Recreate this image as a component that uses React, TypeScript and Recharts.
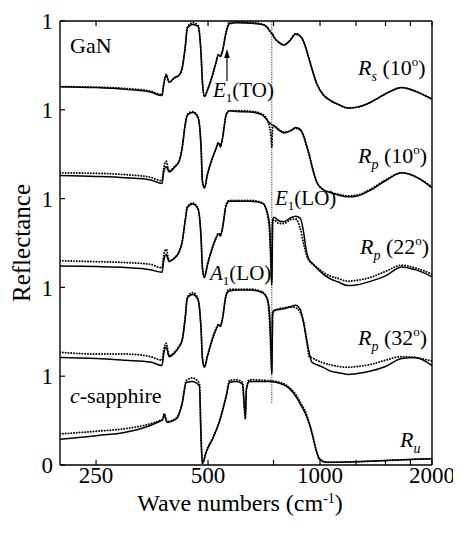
import React from 'react';
import { ComposedChart, Line, XAxis, YAxis, ReferenceLine, Customized } from 'recharts';

const FONT = '"Liberation Serif", "Times New Roman", serif';

// axis ticks
const xTicks = [250, 500, 750, 1000, 1250, 1500, 1750, 2000];
const xLabelTicks = [250, 500, 1000, 2000];
const yTicks = [0, 1, 2, 3, 4, 5];
const yTickLabels = ['0', '1', '1', '1', '1', '1'];

// wave numbers (cm-1) for the GaN curves
const waveGaN = [200, 250, 300, 350, 376, 380, 386, 393, 406, 418, 426, 434, 440, 455, 470, 479, 483, 489, 498, 514, 526, 533, 540, 546, 560, 571, 600, 650, 700, 722, 732, 738, 742, 746, 752, 775, 800, 830, 860, 885, 905, 920, 935, 950, 979, 1020, 1062, 1120, 1187, 1260, 1360, 1500, 1659, 1800, 2000];

// Rs (10 deg)
const rs10Calc = [0.26, 0.25, 0.23, 0.20, 0.16, 0.28, 0.39, 0.31, 0.36, 0.39, 0.47, 0.70, 0.92, 0.96, 0.94, 0.62, 0.31, 0.15, 0.22, 0.39, 0.54, 0.62, 0.60, 0.65, 0.88, 0.97, 0.98, 0.975, 0.96, 0.93, 0.89, 0.87, 0.86, 0.85, 0.82, 0.76, 0.73, 0.78, 0.85, 0.83, 0.76, 0.67, 0.57, 0.47, 0.30, 0.17, 0.11, 0.06, 0.02, 0.03, 0.08, 0.18, 0.25, 0.21, 0.12];
const rs10Exp = [0.26, 0.255, 0.24, 0.21, 0.17, 0.29, 0.40, 0.31, 0.36, 0.39, 0.47, 0.70, 0.93, 0.98, 0.95, 0.62, 0.31, 0.15, 0.22, 0.39, 0.54, 0.62, 0.61, 0.66, 0.89, 0.99, 0.99, 0.985, 0.965, 0.92, 0.89, 0.87, 0.86, 0.85, 0.82, 0.76, 0.73, 0.78, 0.86, 0.83, 0.76, 0.67, 0.57, 0.47, 0.30, 0.17, 0.11, 0.06, 0.02, 0.03, 0.08, 0.18, 0.25, 0.21, 0.12];

// Rp (10 deg)
const rp10Calc = [0.26, 0.25, 0.235, 0.21, 0.17, 0.30, 0.36, 0.30, 0.35, 0.42, 0.57, 0.83, 0.94, 0.97, 0.91, 0.57, 0.19, 0.12, 0.27, 0.46, 0.57, 0.63, 0.58, 0.66, 0.95, 0.99, 0.98, 0.975, 0.94, 0.88, 0.85, 0.84, 0.83, 0.83, 0.82, 0.77, 0.74, 0.76, 0.80, 0.78, 0.70, 0.60, 0.50, 0.38, 0.19, 0.10, 0.07, 0.04, 0.02, 0.03, 0.09, 0.20, 0.29, 0.25, 0.12];
const rp10Exp = [0.29, 0.285, 0.27, 0.24, 0.20, 0.34, 0.42, 0.31, 0.36, 0.42, 0.57, 0.83, 0.95, 0.98, 0.92, 0.57, 0.20, 0.12, 0.27, 0.46, 0.57, 0.63, 0.60, 0.67, 0.95, 0.99, 0.99, 0.985, 0.95, 0.88, 0.80, 0.70, 0.58, 0.80, 0.82, 0.78, 0.75, 0.76, 0.79, 0.77, 0.69, 0.59, 0.49, 0.37, 0.19, 0.10, 0.07, 0.05, 0.03, 0.04, 0.10, 0.21, 0.29, 0.25, 0.13];

// Rp (22 deg)
const rp22Calc = [0.24, 0.235, 0.225, 0.20, 0.17, 0.30, 0.37, 0.29, 0.33, 0.40, 0.51, 0.75, 0.90, 0.94, 0.88, 0.55, 0.22, 0.11, 0.25, 0.45, 0.56, 0.60, 0.58, 0.65, 0.93, 0.97, 0.97, 0.97, 0.95, 0.84, 0.70, 0.30, 0.02, 0.76, 0.79, 0.75, 0.74, 0.78, 0.80, 0.78, 0.60, 0.40, 0.31, 0.28, 0.22, 0.15, 0.10, 0.06, 0.02, 0.03, 0.065, 0.13, 0.23, 0.20, 0.12];
const rp22Exp = [0.30, 0.29, 0.28, 0.26, 0.22, 0.36, 0.43, 0.30, 0.33, 0.40, 0.51, 0.75, 0.91, 0.95, 0.89, 0.55, 0.22, 0.12, 0.26, 0.45, 0.56, 0.61, 0.59, 0.66, 0.94, 0.98, 0.98, 0.98, 0.95, 0.82, 0.60, 0.25, 0.05, 0.74, 0.76, 0.72, 0.72, 0.76, 0.77, 0.66, 0.48, 0.36, 0.30, 0.27, 0.23, 0.17, 0.13, 0.10, 0.07, 0.08, 0.11, 0.18, 0.25, 0.22, 0.15];

// Rp (32 deg)
const rp32Calc = [0.21, 0.20, 0.18, 0.16, 0.12, 0.25, 0.33, 0.22, 0.26, 0.33, 0.40, 0.65, 0.88, 0.92, 0.86, 0.52, 0.20, 0.10, 0.22, 0.42, 0.53, 0.58, 0.56, 0.63, 0.92, 0.96, 0.97, 0.97, 0.94, 0.87, 0.70, 0.30, 0.02, 0.72, 0.74, 0.75, 0.76, 0.78, 0.80, 0.75, 0.58, 0.41, 0.27, 0.16, 0.13, 0.10, 0.06, 0.04, 0.02, 0.03, 0.055, 0.11, 0.20, 0.21, 0.12];
const rp32Exp = [0.27, 0.25, 0.25, 0.22, 0.18, 0.30, 0.37, 0.23, 0.27, 0.34, 0.41, 0.66, 0.89, 0.94, 0.87, 0.52, 0.20, 0.11, 0.23, 0.43, 0.54, 0.58, 0.57, 0.64, 0.93, 0.98, 0.98, 0.98, 0.95, 0.86, 0.60, 0.25, 0.05, 0.70, 0.73, 0.76, 0.77, 0.78, 0.77, 0.72, 0.60, 0.42, 0.22, 0.21, 0.18, 0.15, 0.13, 0.11, 0.10, 0.11, 0.13, 0.18, 0.22, 0.21, 0.17];

// c-sapphire (Ru)
const waveSap = [200, 250, 300, 347, 370, 378, 381, 388, 411, 426, 437, 453, 474, 479, 483, 495, 514, 536, 560, 571, 596, 619, 626, 630, 634, 646, 731, 793, 828, 865, 881, 920, 938, 955, 979, 997, 1042, 1200, 1400, 1600, 1800, 2000];
const sapCalc = [0.29, 0.33, 0.37, 0.44, 0.49, 0.51, 0.57, 0.48, 0.52, 0.69, 0.93, 0.94, 0.89, 0.29, 0.02, 0.15, 0.29, 0.48, 0.78, 0.93, 0.94, 0.91, 0.66, 0.54, 0.85, 0.94, 0.94, 0.91, 0.86, 0.76, 0.70, 0.55, 0.45, 0.33, 0.15, 0.07, 0.03, 0.035, 0.045, 0.055, 0.065, 0.07];
const sapExp = [0.35, 0.38, 0.41, 0.46, 0.50, 0.52, 0.58, 0.49, 0.53, 0.70, 0.95, 0.98, 0.92, 0.30, 0.02, 0.16, 0.30, 0.49, 0.79, 0.95, 0.96, 0.93, 0.64, 0.52, 0.86, 0.96, 0.95, 0.92, 0.87, 0.78, 0.72, 0.57, 0.46, 0.34, 0.15, 0.06, 0.03, 0.035, 0.045, 0.055, 0.065, 0.07];

// vertical offset of each stacked spectrum
const offsets = { rs10: 4, rp10: 3, rp22: 2, rp32: 1, sap: 0 };

const toRows = (waves: number[], vals: number[], off: number) =>
  waves.map((w, i) => ({ w, v: vals[i] + off }));

const series = [
  { key: 'rs10', waves: waveGaN, calc: rs10Calc, exp: rs10Exp, off: offsets.rs10 },
  { key: 'rp10', waves: waveGaN, calc: rp10Calc, exp: rp10Exp, off: offsets.rp10 },
  { key: 'rp22', waves: waveGaN, calc: rp22Calc, exp: rp22Exp, off: offsets.rp22 },
  { key: 'rp32', waves: waveGaN, calc: rp32Calc, exp: rp32Exp, off: offsets.rp32 },
  { key: 'sap', waves: waveSap, calc: sapCalc, exp: sapExp, off: offsets.sap },
];

const RLabel = ({ x, y, sub, angle }: { x: number; y: number; sub: string; angle?: string }) => (
  <text x={x} y={y} fontSize={22} fontFamily={FONT} fill="#000">
    <tspan fontStyle="italic">R</tspan>
    <tspan fontStyle="italic" fontSize={14} dy={6}>{sub}</tspan>
    {angle ? (
      <>
        <tspan dy={-6}>{' (' + angle}</tspan>
        <tspan fontSize={13} dy={-9}>o</tspan>
        <tspan dy={9}>)</tspan>
      </>
    ) : null}
  </text>
);

const Phonon = ({ x, y, letter, mode }: { x: number; y: number; letter: string; mode: string }) => (
  <text x={x} y={y} fontSize={21} fontFamily={FONT} fill="#000">
    <tspan fontStyle="italic">{letter}</tspan>
    <tspan fontSize={13} dy={5}>1</tspan>
    <tspan dy={-5}>{'(' + mode + ')'}</tspan>
  </text>
);

const Annotations = () => (
  <g>
    <text x={62} y={45} fontSize={22} fontFamily={FONT} fill="#000">GaN</text>
    <text x={62} y={395} fontSize={22} fontFamily={FONT} fill="#000">
      <tspan fontStyle="italic">c</tspan>-sapphire
    </text>
    <Phonon x={205} y={89} letter="E" mode="TO" />
    <Phonon x={267} y={197} letter="E" mode="LO" />
    <Phonon x={202} y={272} letter="A" mode="LO" />
    <line x1={219} y1={73} x2={219} y2={48} stroke="#000" strokeWidth={1.2} />
    <polygon points="219,41 216.2,50 221.8,50" fill="#000" />
    <RLabel x={350} y={67} sub="s" angle="10" />
    <RLabel x={350} y={155} sub="p" angle="10" />
    <RLabel x={352} y={246} sub="p" angle="22" />
    <RLabel x={350} y={337} sub="p" angle="32" />
    <RLabel x={392} y={439} sub="u" />
    <text transform="rotate(-90)" x={-235} y={22} textAnchor="middle" fontSize={25} fontFamily={FONT} fill="#000">Reflectance</text>
    <text x={232} y={503} textAnchor="middle" fontSize={24} fontFamily={FONT} fill="#000">
      Wave numbers (cm<tspan fontSize={14} dy={-8}>-1</tspan><tspan dy={8}>)</tspan>
    </text>
  </g>
);

const axisLine = { stroke: '#000', strokeWidth: 1.4 };
const tickLine = { stroke: '#000', strokeWidth: 1.2 };
const tickFont = { fill: '#000', fontSize: 23, fontFamily: FONT };

export default function App() {
  return (
    <div style={{ width: 453, height: 526 }}>
      <ComposedChart width={453} height={526} margin={{ top: 0, right: 0, bottom: 0, left: 0 }}>
        <XAxis
          xAxisId="b" dataKey="w" type="number" scale="log" domain={[200, 2000]} allowDataOverflow
          ticks={xTicks} interval={0} height={69}
          tickFormatter={(v: number) => (xLabelTicks.includes(v) ? String(v) : '')}
          tickSize={-5} tickMargin={7} axisLine={axisLine} tickLine={tickLine} tick={tickFont}
        />
        <XAxis
          xAxisId="t" orientation="top" dataKey="w" type="number" scale="log" domain={[200, 2000]} allowDataOverflow
          ticks={xTicks} interval={0} height={13}
          tickFormatter={() => ''}
          tickSize={-5} axisLine={axisLine} tickLine={tickLine} tick={tickFont}
        />
        <YAxis
          yAxisId="l" type="number" domain={[0, 5]} ticks={yTicks} interval={0} width={52}
          tickFormatter={(v: number) => yTickLabels[yTicks.indexOf(v)] ?? ''}
          tickSize={-5} tickMargin={12} axisLine={axisLine} tickLine={tickLine} tick={tickFont}
        />
        <YAxis
          yAxisId="r" orientation="right" type="number" domain={[0, 5]} ticks={yTicks} interval={0} width={29}
          tickFormatter={() => ''}
          tickSize={-5} axisLine={axisLine} tickLine={tickLine} tick={tickFont}
        />
        <ReferenceLine
          xAxisId="b" yAxisId="l"
          segment={[{ x: 742, y: 0.7 }, { x: 742, y: 5 }]}
          stroke="#000" strokeWidth={1} strokeDasharray="1 1.5"
        />
        {series.map((s) => (
          <Line
            key={s.key + '-calc'} xAxisId="b" yAxisId="l"
            data={toRows(s.waves, s.calc, s.off)} dataKey="v" type="monotone"
            stroke="#000" strokeWidth={1.5} dot={false} activeDot={false} isAnimationActive={false}
          />
        ))}
        {series.map((s) => (
          <Line
            key={s.key + '-exp'} xAxisId="b" yAxisId="l"
            data={toRows(s.waves, s.exp, s.off)} dataKey="v" type="monotone"
            stroke="#000" strokeWidth={1.9} strokeDasharray="0.1 2.7" strokeLinecap="round"
            dot={false} activeDot={false} isAnimationActive={false}
          />
        ))}
        <Customized component={<Annotations />} />
      </ComposedChart>
    </div>
  );
}
